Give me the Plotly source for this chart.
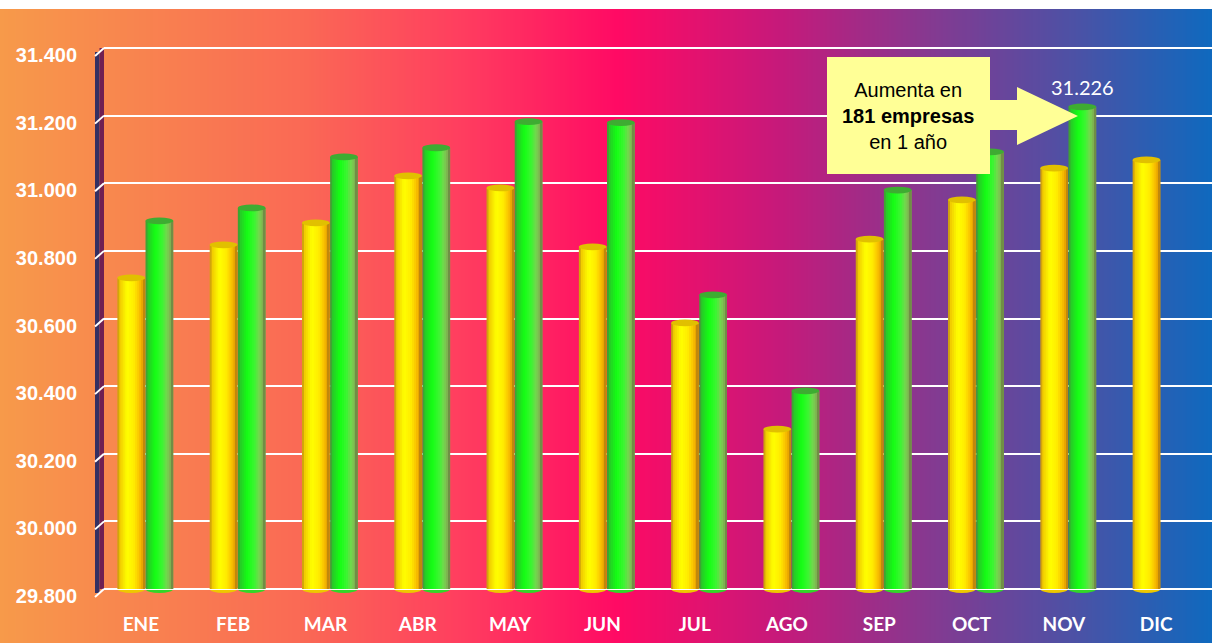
import base64
import struct
import zlib
import plotly.graph_objects as go

# ---------------- data ----------------
months = ["ENE", "FEB", "MAR", "ABR", "MAY", "JUN", "JUL", "AGO", "SEP", "OCT", "NOV", "DIC"]
prev_year = [30720, 30818, 30883, 31022, 30986, 30812, 30587, 30273, 30835, 30951, 31045, 31069]
curr_year = [30889, 30927, 31078, 31105, 31182, 31179, 30670, 30386, 30980, 31093, 31226, None]
y_ticks = [29800, 30000, 30200, 30400, 30600, 30800, 31000, 31200, 31400]
y_min, y_max = 29800, 31400
highlight_month = 10  # NOV

# ---------------- layout geometry (pixels) ----------------
W, H = 1212, 643
PL, PR, PT, PB = 104, 1212, 48, 589
X0, X1 = -0.45, 11.555


def px_x(px):
    return (px - PL) / (PR - PL)


def px_y(py):
    return (PB - py) / (PB - PT)


def data_x_to_paper(x):
    return (x - X0) / (X1 - X0)


def val_to_paper(v):
    return (v - y_min) / (y_max - y_min)


# ---------------- background gradient image ----------------
bg_stops = [(0.0, (247, 154, 74)), (0.25, (250, 105, 85)), (0.38, (255, 62, 95)),
            (0.51, (255, 10, 100)), (0.64, (200, 25, 122)), (0.77, (132, 58, 145)),
            (0.89, (75, 82, 166)), (1.0, (16, 105, 190))]


def interp(stops, t):
    for (t0, c0), (t1, c1) in zip(stops[:-1], stops[1:]):
        if t0 <= t <= t1:
            f = (t - t0) / (t1 - t0) if t1 > t0 else 0
            return tuple(int(round(a + (b - a) * f)) for a, b in zip(c0, c1))
    return stops[-1][1]


def gradient_png(stops, width=512, height=2):
    row = bytearray()
    for i in range(width):
        row.extend(interp(stops, i / (width - 1)))
    raw = b"".join(b"\x00" + bytes(row) for _ in range(height))

    def chunk(tag, data):
        c = struct.pack(">I", len(data)) + tag + data
        return c + struct.pack(">I", zlib.crc32(tag + data) & 0xffffffff)

    png = b"\x89PNG\r\n\x1a\n"
    png += chunk(b"IHDR", struct.pack(">IIBBBBB", width, height, 8, 2, 0, 0, 0))
    png += chunk(b"IDAT", zlib.compress(raw, 9))
    png += chunk(b"IEND", b"")
    return "data:image/png;base64," + base64.b64encode(png).decode()


# ---------------- cylinder shading ----------------
yellow_stops = [(0.0, (185, 135, 20)), (0.08, (240, 200, 0)), (0.35, (255, 255, 0)),
                (0.6, (255, 236, 0)), (0.8, (250, 192, 0)), (0.92, (228, 158, 0)),
                (1.0, (165, 118, 20))]
green_stops = [(0.0, (80, 135, 60)), (0.08, (40, 200, 40)), (0.35, (20, 255, 20)),
               (0.6, (60, 245, 50)), (0.78, (120, 212, 80)), (0.92, (128, 170, 80)),
               (1.0, (100, 120, 60))]

series = [
    dict(name="prev", values=prev_year, offset=-0.305, stops=yellow_stops,
         cap="rgb(225,192,0)", bottom="rgb(238,200,0)"),
    dict(name="curr", values=curr_year, offset=0.0, stops=green_stops,
         cap="rgb(62,172,50)", bottom="rgb(50,215,40)"),
]
BAR_W = 0.30
N_STRIPS = 14

fig = go.Figure()
idx = list(range(len(months)))
shapes = []

for s in series:
    sw = BAR_W / N_STRIPS
    for k in range(N_STRIPS):
        t = (k + 0.5) / N_STRIPS
        c = interp(s["stops"], t)
        width = sw * 2.0 if k < N_STRIPS - 1 else sw
        fig.add_trace(go.Bar(
            x=idx, y=s["values"], offset=s["offset"] + k * sw, width=width,
            marker=dict(color="rgb(%d,%d,%d)" % c, line=dict(width=0)),
            hoverinfo="skip", showlegend=False,
        ))
    for i, v in enumerate(s["values"]):
        if v is None:
            continue
        x0 = i + s["offset"]
        x1 = x0 + BAR_W
        # top cap
        shapes.append(dict(type="circle", xref="x", yref="y", x0=x0, x1=x1,
                           y0=v - 10, y1=v + 10, fillcolor=s["cap"],
                           line=dict(width=0), layer="above"))
        # rounded bottom
        shapes.append(dict(type="circle", xref="paper", yref="paper",
                           x0=data_x_to_paper(x0), x1=data_x_to_paper(x1),
                           y0=px_y(593), y1=px_y(585), fillcolor=s["bottom"],
                           line=dict(width=0), layer="between"))

# edge gridlines (top and bottom of range)
for v in (y_min, y_max):
    shapes.append(dict(type="line", xref="paper", yref="paper", x0=0, x1=1,
                       y0=val_to_paper(v), y1=val_to_paper(v),
                       line=dict(color="white", width=2), layer="between"))

# left side wall
shapes.append(dict(type="rect", xref="paper", yref="paper", x0=px_x(95), x1=px_x(99.5),
                   y0=px_y(593), y1=px_y(52), fillcolor="rgb(52,48,98)",
                   line=dict(width=0), layer="above"))
shapes.append(dict(type="rect", xref="paper", yref="paper", x0=px_x(99.5), x1=px_x(104),
                   y0=px_y(589), y1=px_y(48), fillcolor="rgb(112,32,82)",
                   line=dict(width=0), layer="above"))
# perspective connectors for gridlines
for v in y_ticks:
    yp = val_to_paper(v)
    shapes.append(dict(type="line", xref="paper", yref="paper",
                       x0=px_x(95), x1=px_x(104), y0=yp - 8 / (PB - PT), y1=yp,
                       line=dict(color="white", width=2), layer="above"))

# callout arrow box
callout_pts = [(827, 57), (990, 57), (990, 100), (1017, 100), (1017, 87), (1078, 116),
               (1017, 145), (1017, 130), (990, 130), (990, 174), (827, 174)]
path = "M " + " L ".join("%.5f,%.5f" % (px_x(a), px_y(b)) for a, b in callout_pts) + " Z"
shapes.append(dict(type="path", xref="paper", yref="paper", path=path,
                   fillcolor="rgb(255,255,150)", line=dict(width=0), layer="above"))

diff = curr_year[highlight_month] - prev_year[highlight_month]
annotations = [
    dict(xref="paper", yref="paper", x=px_x(908), y=px_y(116),
         text="Aumenta en<br><b>%d empresas</b><br>en 1 año" % diff,
         showarrow=False, align="center", xanchor="center", yanchor="middle",
         font=dict(family="Liberation Sans, Arial", size=20, color="black")),
    dict(xref="x", yref="y", x=highlight_month + 0.15, y=curr_year[highlight_month],
         text="{:,}".format(curr_year[highlight_month]).replace(",", "."),
         showarrow=False, xanchor="center", yanchor="bottom", yshift=6,
         font=dict(family="Lato", size=20, color="white")),
]

fig.update_layout(
    width=W, height=H, autosize=False,
    margin=dict(l=PL, r=W - PR, t=PT, b=H - PB, pad=0),
    paper_bgcolor="white", plot_bgcolor="rgba(0,0,0,0)",
    barmode="overlay", separators=",.",
    showlegend=False, hovermode=False,
    shapes=shapes, annotations=annotations,
    images=[dict(source=gradient_png(bg_stops), xref="paper", yref="paper",
                 x=px_x(0), y=px_y(9), sizex=px_x(W) - px_x(0), sizey=px_y(9) - px_y(H),
                 xanchor="left", yanchor="top", sizing="stretch", layer="below")],
    xaxis=dict(range=[X0, X1], tickvals=[i - 0.05 for i in idx], ticktext=months,
               showgrid=False, zeroline=False, showline=False, ticks="",
               ticklabelstandoff=22,
               tickfont=dict(family="Lato", size=19, color="white", weight="bold")),
    yaxis=dict(range=[y_min, y_max], tickvals=y_ticks, tickformat=",d",
               showgrid=True, gridcolor="white", gridwidth=2, zeroline=False,
               showline=False, ticks="", ticklabelstandoff=26, ticklabelshift=7,
               tickfont=dict(family="Liberation Sans, Arial", size=20, color="white",
                             weight="bold")),
)

fig.write_html("out.html", config={"displayModeBar": False},
               post_script="document.body.style.margin='0px';")
